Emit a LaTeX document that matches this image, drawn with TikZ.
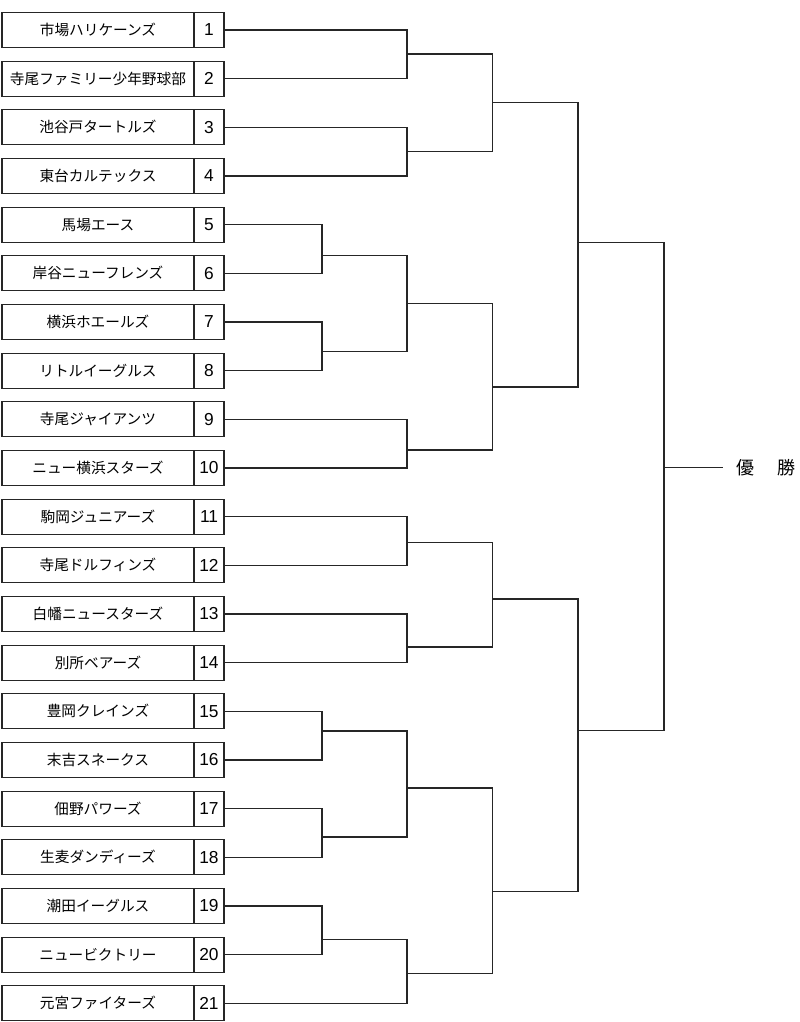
\documentclass[tikz,border=0pt]{standalone}
\usepackage{fontspec}
\setmainfont{Noto Sans CJK JP}
\newfontfamily\numfont{Liberation Sans}
\begin{document}
\begin{tikzpicture}[x=0.75pt,y=-0.75pt,
  lw/.style={line width=0.9pt, draw=black!85},
  namebox/.style={lw, rectangle, minimum width=144pt, minimum height=26.25pt, inner sep=0pt, font=\fontsize{11}{13}\selectfont},
  numbox/.style={lw, rectangle, minimum width=22.5pt, minimum height=26.25pt, inner sep=0pt, font=\numfont\fontsize{13}{15}\selectfont},
  bracket/.style={lw},
  champ/.style={font=\fontsize{13.5}{15}\selectfont, inner sep=0pt}]
\useasboundingbox (0,0) rectangle (800,1022);
\foreach \i/\nm/\y in {
 1/市場ハリケーンズ/30, 2/寺尾ファミリー少年野球部/78.7, 3/池谷戸タートルズ/127.3, 4/東台カルテックス/176,
 5/馬場エース/224.7, 6/岸谷ニューフレンズ/273.3, 7/横浜ホエールズ/322, 8/リトルイーグルス/370.7,
 9/寺尾ジャイアンツ/419.3, 10/ニュー横浜スターズ/468, 11/駒岡ジュニアーズ/516.7, 12/寺尾ドルフィンズ/565.3,
 13/白幡ニュースターズ/614, 14/別所ベアーズ/662.7, 15/豊岡クレインズ/711.3, 16/末吉スネークス/760,
 17/佃野パワーズ/808.7, 18/生麦ダンディーズ/857.3, 19/潮田イーグルス/906, 20/ニュービクトリー/954.7,
 21/元宮ファイターズ/1003.3}{
  \node[namebox] (n\i) at (98,\y) {\nm};
  \node[numbox] (k\i) at (209,\y) {\i};
}
% join points
\coordinate (j12) at (407,54);
\coordinate (j34) at (407,151.3);
\coordinate (j14) at (492.5,102.7);
\coordinate (j56) at (322,255.3);
\coordinate (j78) at (322,351.7);
\coordinate (j58) at (407,303.3);
\coordinate (j910) at (407,450);
\coordinate (j510) at (492.5,387);
\coordinate (jtop) at (578,242.3);
\coordinate (j1112) at (407,542.8);
\coordinate (j1314) at (407,647);
\coordinate (j1114) at (492.5,599);
\coordinate (j1516) at (322,731);
\coordinate (j1718) at (322,837);
\coordinate (j1518) at (407,788);
\coordinate (j1920) at (322,939.3);
\coordinate (j1921) at (407,973.5);
\coordinate (j1521) at (492.5,891.6);
\coordinate (jbot) at (578,730.5);
\coordinate (jfin) at (664,467.3);
\coordinate (jend) at (723,467.3);
% first round
\draw[bracket] (k1.east) -| (j12) |- (k2.east);
\draw[bracket] (k3.east) -| (j34) |- (k4.east);
\draw[bracket] (k5.east) -| (j56) |- (k6.east);
\draw[bracket] (k7.east) -| (j78) |- (k8.east);
\draw[bracket] (k9.east) -| (j910) |- (k10.east);
\draw[bracket] (k11.east) -| (j1112) |- (k12.east);
\draw[bracket] (k13.east) -| (j1314) |- (k14.east);
\draw[bracket] (k15.east) -| (j1516) |- (k16.east);
\draw[bracket] (k17.east) -| (j1718) |- (k18.east);
\draw[bracket] (k19.east) -| (j1920) |- (k20.east);
% later rounds
\draw[bracket] (j1920) -| (j1921) |- (k21.east);
\draw[bracket] (j56) -| (j58) |- (j78);
\draw[bracket] (j1516) -| (j1518) |- (j1718);
\draw[bracket] (j12) -| (j14) |- (j34);
\draw[bracket] (j58) -| (j510) |- (j910);
\draw[bracket] (j1112) -| (j1114) |- (j1314);
\draw[bracket] (j1518) -| (j1521) |- (j1921);
\draw[bracket] (j14) -| (jtop) |- (j510);
\draw[bracket] (j1114) -| (jbot) |- (j1521);
\draw[bracket] (jtop) -| (jfin) |- (jbot);
\draw[bracket] (jfin) -- (jend);
\node[champ] (win) at (766,467.3) {優\hspace{1.3em}勝};
\end{tikzpicture}
\end{document}
